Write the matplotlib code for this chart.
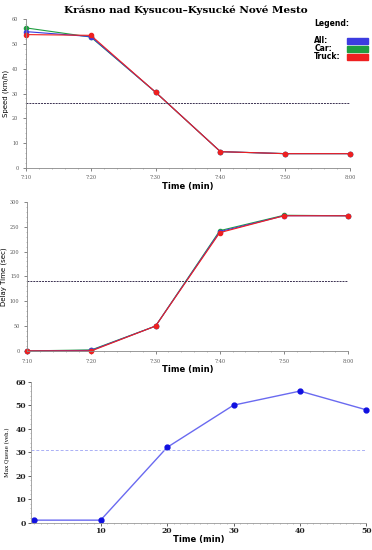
import numpy as np
import matplotlib.pyplot as plt
from matplotlib.patches import Rectangle
from matplotlib.ticker import MultipleLocator

plt.rcParams['font.family'] = ['DejaVu Sans']

# data
minutes = [0, 10, 20, 30, 40, 50]
time_labels = ['7:10', '7:20', '7:30', '7:40', '7:50', '8:00']

speed_all = [55.0, 53.0, 30.5, 6.5, 5.7, 5.7]
speed_car = [56.5, 52.8, 30.5, 6.5, 5.7, 5.7]
speed_truck = [53.8, 53.5, 30.5, 6.5, 5.7, 5.7]
speed_limit = 26

delay_all = [0, 1, 50, 240, 272, 272]
delay_car = [0, 2, 50, 242, 273, 272]
delay_truck = [0, 0, 50, 238, 272, 272]
delay_limit = 140

queue_min = [0, 10, 20, 30, 40, 50]
queue = [1, 1, 32, 50, 56, 48]
queue_limit = 31

c_all, c_car, c_truck = '#3c3ce0', '#1f9e40', '#ee2020'

fig = plt.figure(figsize=(3.72, 5.5), dpi=100)

fig.text(0.5, 0.982, 'Krásno nad Kysucou–Kysucké Nové Mesto', ha='center', va='center',
         family='DejaVu Serif', fontweight='bold', fontsize=7.5)

tick_kw = dict(labelsize=3.5, colors='#555555', length=2, width=0.5)


def style_top(ax, ylabel):
    for s in ['top', 'right']:
        ax.spines[s].set_visible(False)
    for s in ['left', 'bottom']:
        ax.spines[s].set_color('#888888')
        ax.spines[s].set_linewidth(0.6)
    ax.set_xticks(minutes)
    ax.set_xticklabels(time_labels, family='DejaVu Serif')
    ax.xaxis.set_minor_locator(MultipleLocator(2))
    ax.tick_params(axis='both', which='major', **tick_kw)
    ax.tick_params(axis='both', which='minor', length=1, width=0.4, colors='#888888')
    for lab in ax.get_yticklabels():
        lab.set_family('DejaVu Serif')
    ax.set_ylabel(ylabel, fontsize=5, labelpad=2)
    ax.set_xlabel('Time (min)', fontsize=6, fontweight='bold', labelpad=1)
    ax.set_xlim(0, 50)


# speed panel
ax1 = fig.add_axes([0.07, 0.695, 0.871, 0.27])
for y, c in [(speed_car, c_car), (speed_all, c_all), (speed_truck, c_truck)]:
    ax1.plot(minutes, y, color=c, lw=0.8, marker='o', ms=3, clip_on=False)
ax1.axhline(speed_limit, color='#3a3050', lw=0.7, ls=(0, (2, 1)))
ax1.set_ylim(0, 60)
ax1.yaxis.set_major_locator(MultipleLocator(10))
ax1.yaxis.set_minor_locator(MultipleLocator(2))
style_top(ax1, 'Speed (km/h)')

# legend
fig.text(0.845, 0.958, 'Legend:', fontsize=5.5, fontweight='bold', va='center')
for i, (name, c) in enumerate([('All:', c_all), ('Car:', c_car), ('Truck:', c_truck)]):
    yy = 0.926 - i * 0.0145
    fig.text(0.845, yy, name, fontsize=5.5, fontweight='bold', va='center')
    fig.patches.append(Rectangle((0.932, yy - 0.0055), 0.058, 0.011, color=c,
                                 transform=fig.transFigure, figure=fig))

# delay panel
ax2 = fig.add_axes([0.073, 0.362, 0.863, 0.271])
for y, c in [(delay_car, c_car), (delay_all, c_all), (delay_truck, c_truck)]:
    ax2.plot(minutes, y, color=c, lw=0.8, marker='o', ms=3, clip_on=False)
ax2.axhline(delay_limit, color='#3a3050', lw=0.7, ls=(0, (2, 1)))
ax2.set_ylim(0, 300)
ax2.yaxis.set_major_locator(MultipleLocator(50))
ax2.yaxis.set_minor_locator(MultipleLocator(10))
style_top(ax2, 'Delay Time (sec)')

# queue panel
ax3 = fig.add_axes([0.083, 0.05, 0.902, 0.256])
ax3.plot(queue_min, queue, color='#6a6af0', lw=1, marker='o', ms=3.5,
         mfc='#1010e0', mec='#1010e0', clip_on=False)
ax3.axhline(queue_limit, color='#aab0f5', lw=0.7, ls=(0, (3, 2)))
ax3.set_xlim(-0.5, 50)
ax3.set_ylim(0, 60)
ax3.set_xticks([10, 20, 30, 40, 50])
ax3.xaxis.set_minor_locator(MultipleLocator(1))
ax3.yaxis.set_minor_locator(MultipleLocator(2))
ax3.set_yticks([0, 10, 20, 30, 40, 50, 60])
ax3.tick_params(axis='both', which='major', labelsize=5.5, length=2, width=0.5,
                colors='#222222', pad=1.5)
ax3.tick_params(axis='both', which='minor', length=1, width=0.4, colors='#888888')
for lab in ax3.get_xticklabels() + ax3.get_yticklabels():
    lab.set_family('DejaVu Serif')
    lab.set_fontweight('bold')
for s in ['top', 'right']:
    ax3.spines[s].set_visible(False)
for s in ['left', 'bottom']:
    ax3.spines[s].set_color('#999999')
    ax3.spines[s].set_linewidth(0.6)
ax3.set_ylabel('Max Queue (veh.)', family='DejaVu Serif', fontsize=4, labelpad=4)
ax3.set_xlabel('Time (min)', fontsize=6, fontweight='bold', labelpad=0)

fig.savefig('out.png', dpi=100)
